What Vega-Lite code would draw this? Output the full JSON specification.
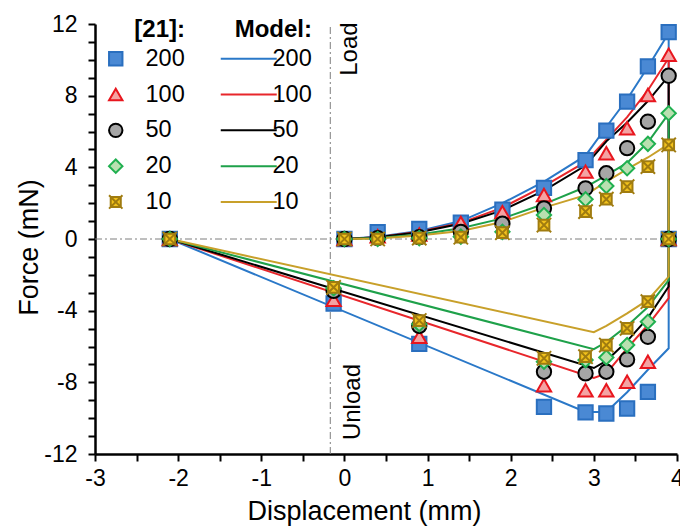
{
  "$schema": "https://vega.github.io/schema/vega-lite/v6.json",
  "width": 582,
  "height": 430,
  "autosize": {"type": "none"},
  "padding": {"left": 95, "top": 24, "right": 3, "bottom": 78},
  "background": "white",
  "config": {"font": "Liberation Sans", "view": {"stroke": null}},
  "datasets": {
    "refs": [
      {"g": "h", "x": -3, "y": 0}, {"g": "h", "x": 4, "y": 0},
      {"g": "v", "x": -0.17, "y": -12}, {"g": "v", "x": -0.17, "y": 12}
    ],
    "notes": [
      {"x": 0.07, "y": 10.6, "t": "Load"},
      {"x": 0.1, "y": -9.1, "t": "Unload"}
    ],
    "model": [
      {"model": 200, "i": 1, "x": 0, "y": 0}, {"model": 200, "i": 2, "x": 0.4, "y": 0.12}, {"model": 200, "i": 3, "x": 0.9, "y": 0.45}, {"model": 200, "i": 4, "x": 1.4, "y": 1.0}, {"model": 200, "i": 5, "x": 1.9, "y": 2.0}, {"model": 200, "i": 6, "x": 2.4, "y": 3.2}, {"model": 200, "i": 7, "x": 2.9, "y": 4.65}, {"model": 200, "i": 8, "x": 3.15, "y": 6.25}, {"model": 200, "i": 9, "x": 3.4, "y": 7.8}, {"model": 200, "i": 10, "x": 3.65, "y": 9.6}, {"model": 200, "i": 11, "x": 3.9, "y": 11.5},
      {"model": 200, "i": 12, "x": 3.9, "y": -6.1}, {"model": 200, "i": 13, "x": 3.65, "y": -7.3}, {"model": 200, "i": 14, "x": 3.4, "y": -8.55}, {"model": 200, "i": 15, "x": 3.15, "y": -9.65}, {"model": 200, "i": 16, "x": 2.9, "y": -9.65}, {"model": 200, "i": 17, "x": -2.1, "y": 0},
      {"model": 100, "i": 1, "x": 0, "y": 0}, {"model": 100, "i": 2, "x": 0.4, "y": 0.1}, {"model": 100, "i": 3, "x": 0.9, "y": 0.4}, {"model": 100, "i": 4, "x": 1.4, "y": 0.9}, {"model": 100, "i": 5, "x": 1.9, "y": 1.75}, {"model": 100, "i": 6, "x": 2.4, "y": 2.95}, {"model": 100, "i": 7, "x": 2.9, "y": 4.3}, {"model": 100, "i": 8, "x": 3.15, "y": 5.55}, {"model": 100, "i": 9, "x": 3.4, "y": 6.8}, {"model": 100, "i": 10, "x": 3.65, "y": 8.3}, {"model": 100, "i": 11, "x": 3.9, "y": 10.1},
      {"model": 100, "i": 12, "x": 3.9, "y": -3.3}, {"model": 100, "i": 13, "x": 3.65, "y": -4.8}, {"model": 100, "i": 14, "x": 3.4, "y": -6.1}, {"model": 100, "i": 15, "x": 3.15, "y": -7.5}, {"model": 100, "i": 16, "x": 3.0, "y": -7.75}, {"model": 100, "i": 17, "x": -2.1, "y": 0},
      {"model": 50, "i": 1, "x": 0, "y": 0}, {"model": 50, "i": 2, "x": 0.4, "y": 0.1}, {"model": 50, "i": 3, "x": 0.9, "y": 0.38}, {"model": 50, "i": 4, "x": 1.4, "y": 0.85}, {"model": 50, "i": 5, "x": 1.9, "y": 1.6}, {"model": 50, "i": 6, "x": 2.4, "y": 2.7}, {"model": 50, "i": 7, "x": 2.9, "y": 4.1}, {"model": 50, "i": 8, "x": 3.15, "y": 5.45}, {"model": 50, "i": 9, "x": 3.4, "y": 6.5}, {"model": 50, "i": 10, "x": 3.65, "y": 7.7}, {"model": 50, "i": 11, "x": 3.9, "y": 9.1},
      {"model": 50, "i": 12, "x": 3.9, "y": -2.65}, {"model": 50, "i": 13, "x": 3.65, "y": -4.4}, {"model": 50, "i": 14, "x": 3.4, "y": -5.7}, {"model": 50, "i": 15, "x": 3.15, "y": -6.8}, {"model": 50, "i": 16, "x": 3.0, "y": -7.2}, {"model": 50, "i": 17, "x": -2.1, "y": 0},
      {"model": 20, "i": 1, "x": 0, "y": 0}, {"model": 20, "i": 2, "x": 0.4, "y": 0.05}, {"model": 20, "i": 3, "x": 0.9, "y": 0.25}, {"model": 20, "i": 4, "x": 1.4, "y": 0.6}, {"model": 20, "i": 5, "x": 1.9, "y": 1.15}, {"model": 20, "i": 6, "x": 2.4, "y": 1.95}, {"model": 20, "i": 7, "x": 2.9, "y": 2.9}, {"model": 20, "i": 8, "x": 3.15, "y": 3.55}, {"model": 20, "i": 9, "x": 3.4, "y": 4.25}, {"model": 20, "i": 10, "x": 3.65, "y": 5.4}, {"model": 20, "i": 11, "x": 3.9, "y": 7.0},
      {"model": 20, "i": 12, "x": 3.9, "y": -2.3}, {"model": 20, "i": 13, "x": 3.65, "y": -3.8}, {"model": 20, "i": 14, "x": 3.4, "y": -4.85}, {"model": 20, "i": 15, "x": 3.15, "y": -5.75}, {"model": 20, "i": 16, "x": 3.0, "y": -6.15}, {"model": 20, "i": 17, "x": -2.1, "y": 0},
      {"model": 10, "i": 1, "x": 0, "y": 0}, {"model": 10, "i": 2, "x": 0.4, "y": 0.03}, {"model": 10, "i": 3, "x": 0.9, "y": 0.2}, {"model": 10, "i": 4, "x": 1.4, "y": 0.45}, {"model": 10, "i": 5, "x": 1.9, "y": 0.95}, {"model": 10, "i": 6, "x": 2.4, "y": 1.75}, {"model": 10, "i": 7, "x": 2.9, "y": 2.45}, {"model": 10, "i": 8, "x": 3.15, "y": 3.2}, {"model": 10, "i": 9, "x": 3.4, "y": 3.9}, {"model": 10, "i": 10, "x": 3.65, "y": 4.55}, {"model": 10, "i": 11, "x": 3.9, "y": 5.3},
      {"model": 10, "i": 12, "x": 3.9, "y": -2.1}, {"model": 10, "i": 13, "x": 3.65, "y": -3.4}, {"model": 10, "i": 14, "x": 3.4, "y": -4.15}, {"model": 10, "i": 15, "x": 3.15, "y": -4.85}, {"model": 10, "i": 16, "x": 3.0, "y": -5.2}, {"model": 10, "i": 17, "x": -2.1, "y": 0}
    ],
    "exp": [
      {"series": "200", "x": 0, "y": 0}, {"series": "200", "x": 0.4, "y": 0.38}, {"series": "200", "x": 0.9, "y": 0.57}, {"series": "200", "x": 1.4, "y": 0.91}, {"series": "200", "x": 1.9, "y": 1.64}, {"series": "200", "x": 2.4, "y": 2.85}, {"series": "200", "x": 2.9, "y": 4.4}, {"series": "200", "x": 3.15, "y": 6.05}, {"series": "200", "x": 3.4, "y": 7.67}, {"series": "200", "x": 3.65, "y": 9.63}, {"series": "200", "x": 3.9, "y": 11.55},
      {"series": "200", "x": 3.9, "y": 0}, {"series": "200", "x": 3.65, "y": -8.53}, {"series": "200", "x": 3.4, "y": -9.46}, {"series": "200", "x": 3.15, "y": -9.74}, {"series": "200", "x": 2.9, "y": -9.68}, {"series": "200", "x": 2.4, "y": -9.37}, {"series": "200", "x": 0.9, "y": -5.85}, {"series": "200", "x": -0.13, "y": -3.6}, {"series": "200", "x": -2.1, "y": 0},
      {"series": "100", "x": 0, "y": 0}, {"series": "100", "x": 0.4, "y": 0.15}, {"series": "100", "x": 0.9, "y": 0.25}, {"series": "100", "x": 1.4, "y": 0.9}, {"series": "100", "x": 1.9, "y": 1.5}, {"series": "100", "x": 2.4, "y": 2.46}, {"series": "100", "x": 2.9, "y": 3.76}, {"series": "100", "x": 3.15, "y": 4.79}, {"series": "100", "x": 3.4, "y": 6.18}, {"series": "100", "x": 3.65, "y": 8.04}, {"series": "100", "x": 3.9, "y": 10.28},
      {"series": "100", "x": 3.9, "y": 0}, {"series": "100", "x": 3.65, "y": -6.85}, {"series": "100", "x": 3.4, "y": -7.97}, {"series": "100", "x": 3.15, "y": -8.44}, {"series": "100", "x": 2.9, "y": -8.44}, {"series": "100", "x": 2.4, "y": -8.16}, {"series": "100", "x": 0.9, "y": -5.46}, {"series": "100", "x": -0.13, "y": -3.4}, {"series": "100", "x": -2.1, "y": 0},
      {"series": "50", "x": 0, "y": 0}, {"series": "50", "x": 0.4, "y": 0.05}, {"series": "50", "x": 0.9, "y": 0.1}, {"series": "50", "x": 1.4, "y": 0.4}, {"series": "50", "x": 1.9, "y": 0.85}, {"series": "50", "x": 2.4, "y": 1.71}, {"series": "50", "x": 2.9, "y": 2.83}, {"series": "50", "x": 3.15, "y": 3.67}, {"series": "50", "x": 3.4, "y": 5.07}, {"series": "50", "x": 3.65, "y": 6.55}, {"series": "50", "x": 3.9, "y": 9.11},
      {"series": "50", "x": 3.9, "y": 0}, {"series": "50", "x": 3.65, "y": -5.46}, {"series": "50", "x": 3.4, "y": -6.72}, {"series": "50", "x": 3.15, "y": -7.41}, {"series": "50", "x": 2.9, "y": -7.5}, {"series": "50", "x": 2.4, "y": -7.41}, {"series": "50", "x": 0.9, "y": -4.85}, {"series": "50", "x": -0.13, "y": -2.9}, {"series": "50", "x": -2.1, "y": 0},
      {"series": "20", "x": 0, "y": 0}, {"series": "20", "x": 0.4, "y": 0}, {"series": "20", "x": 0.9, "y": 0.05}, {"series": "20", "x": 1.4, "y": 0.13}, {"series": "20", "x": 1.9, "y": 0.4}, {"series": "20", "x": 2.4, "y": 1.34}, {"series": "20", "x": 2.9, "y": 2.22}, {"series": "20", "x": 3.15, "y": 2.96}, {"series": "20", "x": 3.4, "y": 3.95}, {"series": "20", "x": 3.65, "y": 5.31}, {"series": "20", "x": 3.9, "y": 7.02},
      {"series": "20", "x": 3.9, "y": 0}, {"series": "20", "x": 3.65, "y": -4.62}, {"series": "20", "x": 3.4, "y": -5.92}, {"series": "20", "x": 3.15, "y": -6.61}, {"series": "20", "x": 2.9, "y": -6.76}, {"series": "20", "x": 2.4, "y": -6.85}, {"series": "20", "x": 0.9, "y": -4.75}, {"series": "20", "x": -0.13, "y": -2.75}, {"series": "20", "x": -2.1, "y": 0},
      {"series": "10", "x": 0, "y": 0}, {"series": "10", "x": 0.4, "y": 0}, {"series": "10", "x": 0.9, "y": 0.05}, {"series": "10", "x": 1.4, "y": 0.1}, {"series": "10", "x": 1.9, "y": 0.35}, {"series": "10", "x": 2.4, "y": 0.78}, {"series": "10", "x": 2.9, "y": 1.53}, {"series": "10", "x": 3.15, "y": 2.22}, {"series": "10", "x": 3.4, "y": 2.92}, {"series": "10", "x": 3.65, "y": 4.04}, {"series": "10", "x": 3.9, "y": 5.25},
      {"series": "10", "x": 3.9, "y": 0}, {"series": "10", "x": 3.65, "y": -3.5}, {"series": "10", "x": 3.4, "y": -4.99}, {"series": "10", "x": 3.15, "y": -5.92}, {"series": "10", "x": 2.9, "y": -6.57}, {"series": "10", "x": 2.4, "y": -6.66}, {"series": "10", "x": 0.9, "y": -4.55}, {"series": "10", "x": -0.13, "y": -2.7}, {"series": "10", "x": -2.1, "y": 0}
    ]
  },
  "encoding": {
    "x": {
      "field": "x", "type": "quantitative",
      "scale": {"domain": [-3, 4], "nice": false, "zero": false},
      "axis": {
        "title": "Displacement (mm)",
        "values": [-3, -2.5, -2, -1.5, -1, -0.5, 0, 0.5, 1, 1.5, 2, 2.5, 3, 3.5, 4],
        "labelExpr": "datum.value % 1 === 0 ? '' + datum.value : ''",
        "labelOverlap": false, "labelFlush": false,
        "grid": false, "domainColor": "#000000", "domainWidth": 2.5,
        "tickColor": "#000000", "tickWidth": 2, "tickSize": 7,
        "labelFontSize": 23, "labelColor": "#000000", "labelPadding": 6,
        "titleFontSize": 27, "titleFontWeight": "normal", "titleColor": "#000000",
        "titleX": 269, "titleY": 65, "titleBaseline": "alphabetic"
      }
    },
    "y": {
      "field": "y", "type": "quantitative",
      "scale": {"domain": [-12, 12], "nice": false, "zero": false},
      "axis": {
        "title": "Force (mN)",
        "values": [-12, -11, -10, -9, -8, -7, -6, -5, -4, -3, -2, -1, 0, 1, 2, 3, 4, 5, 6, 7, 8, 9, 10, 11, 12],
        "labelExpr": "datum.value % 4 === 0 ? '' + datum.value : ''",
        "labelOverlap": false, "labelFlush": false,
        "grid": false, "domainColor": "#000000", "domainWidth": 2.5,
        "tickColor": "#000000", "tickWidth": 2, "tickSize": 7,
        "labelFontSize": 23, "labelColor": "#000000", "labelPadding": 11,
        "titleFontSize": 27, "titleFontWeight": "normal", "titleColor": "#000000",
        "titleX": -66, "titleY": 223, "titleBaseline": "middle"
      }
    }
  },
  "layer": [
    {
      "data": {"name": "refs"},
      "mark": {"type": "line", "color": "#7f7f7f", "strokeWidth": 1, "strokeDash": [7, 3, 2, 3]},
      "encoding": {"detail": {"field": "g", "type": "nominal"}}
    },
    {
      "data": {"name": "notes"},
      "mark": {"type": "text", "angle": 270, "fontSize": 24, "align": "center", "baseline": "middle", "color": "#000000"},
      "encoding": {"text": {"field": "t", "type": "nominal"}}
    },
    {
      "data": {"name": "model"},
      "mark": {"type": "line", "strokeWidth": 2},
      "encoding": {
        "order": {"field": "i", "type": "quantitative"},
        "stroke": {
          "field": "model", "type": "nominal",
          "scale": {"domain": [200, 100, 50, 20, 10], "range": ["#2a78c8", "#e8262b", "#000000", "#1ea14a", "#c8a02a"]},
          "legend": {
            "title": "Model:", "orient": "none", "legendX": 140, "legendY": -6,
            "symbolType": "M-4,0H4", "symbolSize": 196, "symbolStrokeWidth": 2,
            "titleFontSize": 24, "titleFontWeight": "bold", "titleColor": "#000000", "titleAnchor": "end",
            "labelFontSize": 23.5, "labelColor": "#000000", "labelOffset": 12,
            "rowPadding": 10.8, "padding": 0
          }
        }
      }
    },
    {
      "data": {"name": "exp"},
      "mark": {"type": "point", "filled": false, "size": 205, "strokeWidth": 2, "opacity": 1, "fillOpacity": 1, "strokeOpacity": 1},
      "encoding": {
        "color": {
          "field": "series", "type": "nominal",
          "scale": {"domain": ["200", "100", "50", "20", "10"], "range": ["#2a6fbf", "#e8161e", "#000000", "#20b050", "#a07c10"]},
          "legend": {
            "title": "[21]:", "orient": "none", "legendX": 9, "legendY": -6,
            "symbolSize": 180, "symbolStrokeWidth": 2, "symbolOpacity": 1,
            "titleFontSize": 24, "titleFontWeight": "bold", "titleColor": "#000000", "titleAnchor": "end",
            "labelFontSize": 23.5, "labelColor": "#000000", "labelOffset": 18,
            "rowPadding": 10.8, "padding": 0
          }
        },
        "fill": {
          "field": "series", "type": "nominal",
          "scale": {"domain": ["200", "100", "50", "20", "10"], "range": ["#4a89d4", "#f4a3a3", "#a6a6a6", "#b9e0b0", "#f2c21c"]}
        },
        "shape": {
          "field": "series", "type": "nominal",
          "scale": {"domain": ["200", "100", "50", "20", "10"], "range": ["square", "triangle-up", "circle", "diamond", "M-0.75,-0.75H0.75V0.75H-0.75ZM-1,-1L1,1M-1,1L1,-1"]}
        }
      }
    }
  ]
}
